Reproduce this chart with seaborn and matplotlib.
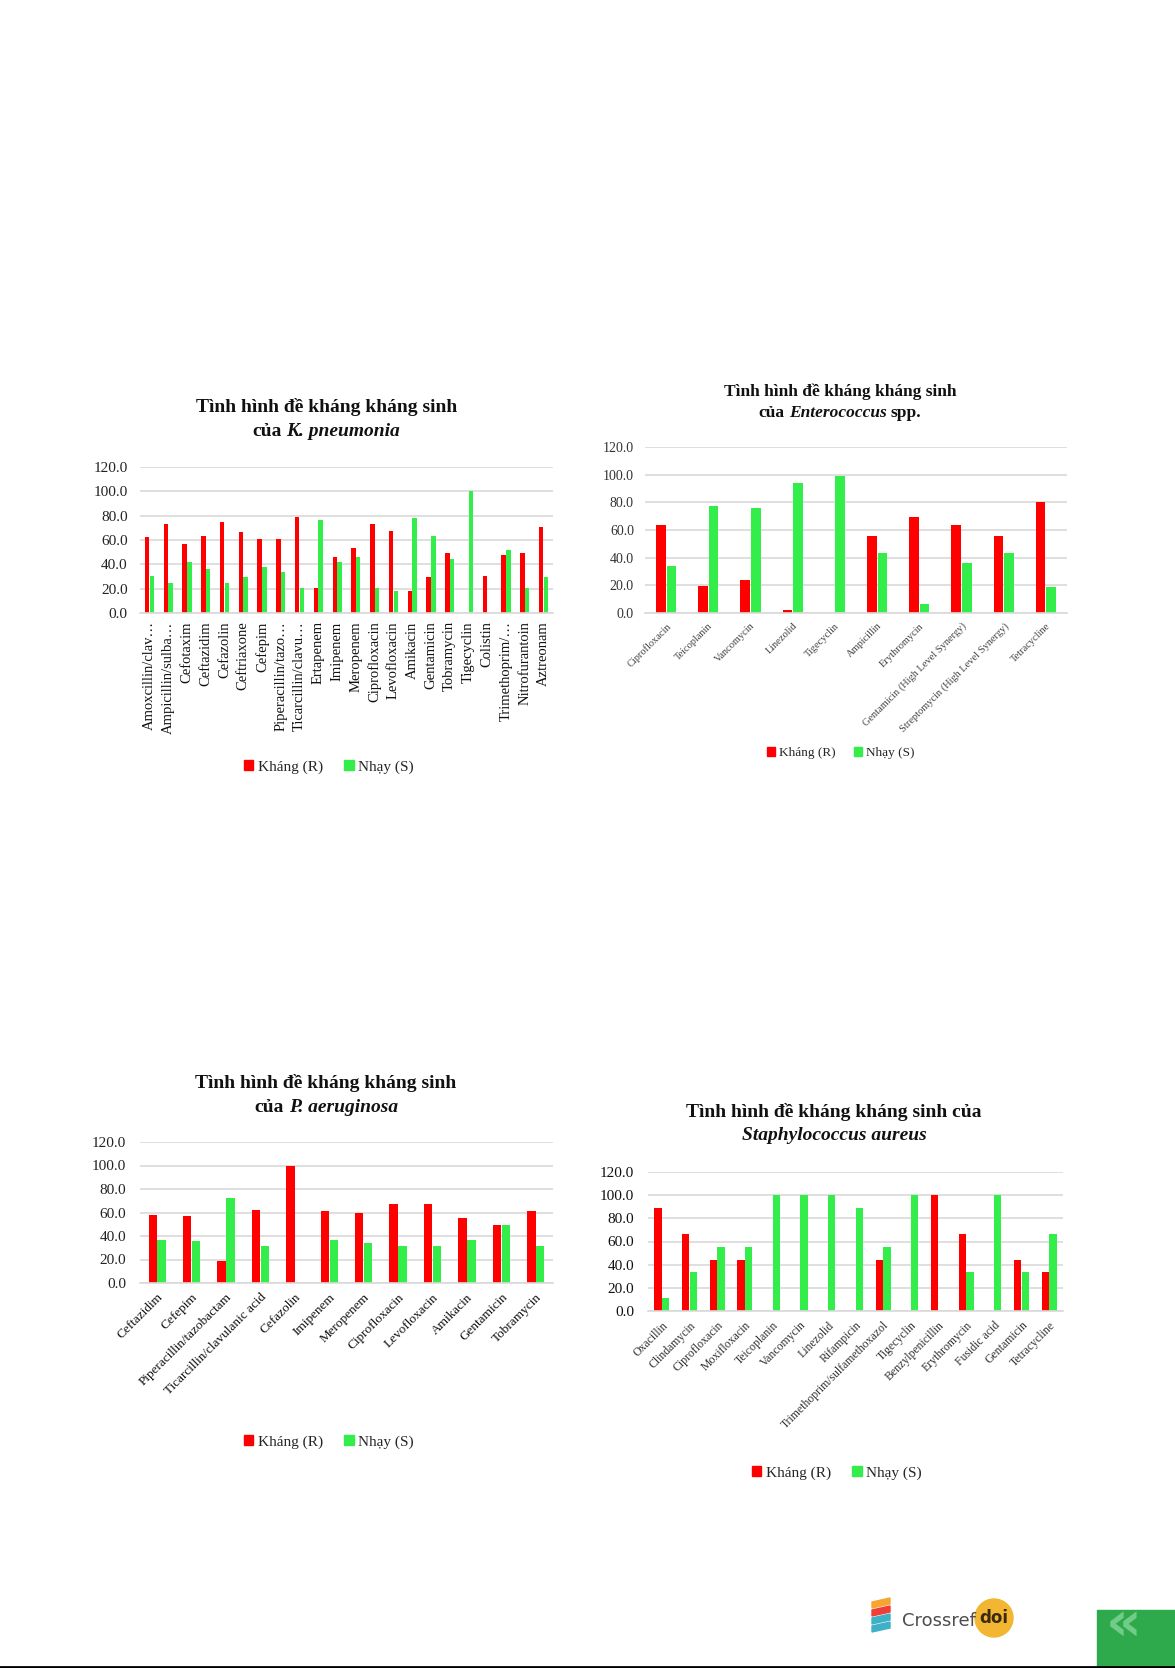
import numpy as np
import pandas as pd
import matplotlib
matplotlib.use("Agg")
import matplotlib.pyplot as plt
import matplotlib.patches as mpatches
import seaborn as sns

sns.set_theme(style="white")
plt.rcParams['font.family'] = ['Liberation Serif', 'DejaVu Serif']

W, H = 1175, 1668
DPI = 100

# ---------------- DATA ----------------
series_names = ["Kháng (R)", "Nhạy (S)"]
colors = ["#FF0000", "#33EE4A"]

kp_labels = ["Amoxcillin/clav…", "Ampicillin/sulba…", "Cefotaxim", "Ceftazidim", "Cefazolin",
             "Ceftriaxone", "Cefepim", "Piperacillin/tazo…", "Ticarcillin/clavu…", "Ertapenem",
             "Imipenem", "Meropenem", "Ciprofloxacin", "Levofloxacin", "Amikacin", "Gentamicin",
             "Tobramycin", "Tigecyclin", "Colistin", "Trimethoprim/…", "Nitrofurantoin", "Aztreonam"]
kp_R = [62.2, 73.1, 56.5, 63.5, 75.0, 66.3, 60.5, 60.5, 79.0, 20.5, 46.4, 53.2, 73.1, 67.6,
        17.7, 29.2, 49.1, 0.0, 30.5, 47.7, 49.1, 70.9]
kp_S = [30.5, 25.0, 42.3, 36.3, 24.5, 29.2, 37.6, 33.5, 20.2, 76.4, 42.3, 46.4, 20.2, 17.7,
        77.7, 63.5, 44.5, 100.0, 0.0, 51.8, 20.5, 29.2]

ent_labels = ["Ciprofloxacin", "Teicoplanin", "Vancomycin", "Linezolid", "Tigecyclin",
              "Ampicillin", "Erythromycin", "Gentamicin (High Level Synergy)",
              "Streptomycin (High Level Synergy)", "Tetracycline"]
ent_R = [63.6, 19.2, 23.5, 2.4, 0.0, 55.9, 69.6, 63.6, 55.9, 80.4]
ent_S = [34.3, 77.5, 76.1, 94.3, 99.1, 43.7, 6.5, 36.0, 43.7, 19.0]

pa_labels = ["Ceftazidim", "Cefepim", "Piperacillin/tazobactam", "Ticarcillin/clavulanic acid",
             "Cefazolin", "Imipenem", "Meropenem", "Ciprofloxacin", "Levofloxacin",
             "Amikacin", "Gentamicin", "Tobramycin"]
pa_R = [58.2, 56.7, 18.4, 62.4, 100.0, 61.0, 59.6, 67.0, 67.0, 55.0, 49.1, 61.0]
pa_S = [36.9, 35.7, 72.6, 31.5, 0.0, 36.9, 34.3, 31.5, 31.5, 36.9, 49.1, 31.5]

sa_labels = ["Oxacillin", "Clindamycin", "Ciprofloxacin", "Moxifloxacin", "Teicoplanin",
             "Vancomycin", "Linezolid", "Rifampicin", "Trimethoprim/sulfamethoxazol",
             "Tigecyclin", "Benzylpenicillin", "Erythromycin", "Fusidic acid", "Gentamicin",
             "Tetracycline"]
sa_R = [88.9, 66.7, 44.4, 44.4, 0.0, 0.0, 0.0, 0.0, 44.4, 0.0, 100.0, 66.7, 0.0, 44.4, 33.3]
sa_S = [11.1, 33.3, 55.6, 55.6, 100.0, 100.0, 100.0, 88.9, 55.6, 100.0, 0.0, 33.3, 100.0, 33.3, 66.7]

yticks = [0, 20, 40, 60, 80, 100, 120]

# ---------------- FIGURE ----------------
fig = plt.figure(figsize=(W / DPI, H / DPI), dpi=DPI)
fig.patch.set_facecolor("white")


def make_df(labels, r, s):
    return pd.DataFrame({
        "Kháng sinh": list(labels) * 2,
        "Tỷ lệ": list(r) + list(s),
        "Loại": [series_names[0]] * len(labels) + [series_names[1]] * len(labels),
    })


def add_ax(left, right, top, bottom):
    return fig.add_axes([left / W, 1 - bottom / H, (right - left) / W, (bottom - top) / H])


def draw_chart(box, labels, r, s, width, gap, rot, xfs, yfs, ypad, xcolor, ycolor):
    ax = add_ax(*box)
    df = make_df(labels, r, s)
    sns.barplot(data=df, x="Kháng sinh", y="Tỷ lệ", hue="Loại", order=labels,
                hue_order=series_names, palette=colors, width=width, gap=gap,
                saturation=1, legend=False, ax=ax, linewidth=0)
    ax.set_ylim(0, 120)
    ax.set_xlim(-0.5, len(labels) - 0.5)
    ax.set_yticks(yticks)
    ax.set_yticklabels([f"{v:.1f}" for v in yticks], fontsize=yfs, color=ycolor)
    ax.yaxis.grid(True, color="#D9D9D9", linewidth=1.2)
    ax.set_axisbelow(True)
    for sp in ["top", "right", "left"]:
        ax.spines[sp].set_visible(False)
    ax.spines["bottom"].set_color("#D9D9D9")
    ax.spines["bottom"].set_linewidth(1.2)
    ax.tick_params(axis="both", length=0)
    ax.tick_params(axis="y", pad=ypad)
    ax.tick_params(axis="x", pad=6)
    ax.set_xlabel("")
    ax.set_ylabel("")
    if rot == 90:
        ax.set_xticks(range(len(labels)))
        ax.set_xticklabels(labels, rotation=90, fontsize=xfs, color=xcolor, va="top", ha="center")
    else:
        ax.set_xticks(range(len(labels)))
        ax.set_xticklabels(labels, rotation=45, fontsize=xfs, color=xcolor, ha="right",
                           rotation_mode="anchor")
    return ax


renderer = fig.canvas.get_renderer()


def text_w(s, size, style):
    t = fig.text(0, 0, s, fontsize=size, fontweight="bold", fontstyle=style)
    w = t.get_window_extent(renderer).width
    t.remove()
    return w


def mixed_line(pieces, xc, y, size):
    # pieces: list of (text, style)
    sp = text_w("a a", size, "normal") - text_w("aa", size, "normal")
    widths = [text_w(p, size, st) for p, st in pieces]
    total = sum(widths) + sp * (len(pieces) - 1)
    x = xc - total / 2
    for (p, st), w in zip(pieces, widths):
        fig.text(x / W, 1 - y / H, p, fontsize=size, fontweight="bold", fontstyle=st,
                 ha="left", va="center", color="#111111")
        x += w + sp


def legend_at(xc, y, size):
    handles = [mpatches.Patch(color=c, label=n) for c, n in zip(colors, series_names)]
    fig.legend(handles=handles, loc="center", bbox_to_anchor=(xc / W, 1 - y / H), ncol=2,
               frameon=False, fontsize=size, handlelength=0.6, handleheight=0.6,
               handletextpad=0.3, columnspacing=1.4)


# Chart 1: K. pneumonia
draw_chart((140, 553, 467, 613), kp_labels, kp_R, kp_S, 0.5, 0.05, 90, 10.5, 11, 9, "#111111", "#222222")
mixed_line([("Tình hình đề kháng kháng sinh", "normal")], 327, 407, 14)
mixed_line([("của", "normal"), ("K. pneumonia", "italic")], 326, 432, 14)
legend_at(329, 767, 11)

# Chart 2: Enterococcus spp.
draw_chart((645, 1067, 447, 613), ent_labels, ent_R, ent_S, 0.5, 0.1, 45, 7.5, 10, 8, "#444444", "#333333")
mixed_line([("Tình hình đề kháng kháng sinh", "normal")], 840, 392, 12.5)
mixed_line([("của", "normal"), ("Enterococcus", "italic"), ("spp.", "normal")], 840, 413, 12.5)
legend_at(841, 753, 9.5)

# Chart 3: P. aeruginosa
draw_chart((140, 553, 1142, 1283), pa_labels, pa_R, pa_S, 0.52, 0.06, 45, 9.5, 11, 10, "#111111", "#222222")
mixed_line([("Tình hình đề kháng kháng sinh", "normal")], 326, 1083, 14)
mixed_line([("của", "normal"), ("P. aeruginosa", "italic")], 326, 1107, 14)
legend_at(329, 1442, 11)

# Chart 4: Staphylococcus aureus
draw_chart((648, 1063, 1172, 1311), sa_labels, sa_R, sa_S, 0.55, 0.06, 45, 8.5, 11, 10, "#333333", "#111111")
mixed_line([("Tình hình đề kháng kháng sinh của", "normal")], 834, 1112, 14)
mixed_line([("Staphylococcus aureus", "italic")], 834, 1135, 14)
legend_at(837, 1473, 11)

# ---------------- FOOTER DECORATION ----------------
deco = fig.add_axes([0, 0, 1, 1], zorder=-1)
deco.set_xlim(0, W)
deco.set_ylim(H, 0)
deco.axis("off")
# Crossref stripes
for i, c in enumerate(["#F6A531", "#EF3E36", "#3EB1C8", "#3EB1C8"]):
    deco.add_patch(mpatches.Polygon([[872, 1602 + i * 8], [890, 1598 + i * 8],
                                     [890, 1604 + i * 8], [872, 1608 + i * 8]], color=c))
deco.text(902, 1621, "Crossref", fontsize=13, color="#4D4D4D", family="DejaVu Sans",
          va="center", ha="left")
deco.add_patch(mpatches.Circle((994, 1618), 19, color="#F2B632"))
deco.text(994, 1618, "doi", fontsize=12, fontweight="bold", color="#3A2A10",
          family="DejaVu Sans", va="center", ha="center")
# Green box with chevrons
deco.add_patch(mpatches.Rectangle((1097, 1610), 78, 57, color="#2EAA4C"))
deco.text(1124, 1626, "«", fontsize=40, color="#72CC88", family="DejaVu Sans",
          va="center", ha="center", fontweight="bold")
# bottom rule
deco.plot([0, W], [1666.5, 1666.5], color="black", linewidth=2)

fig.savefig("out.png", dpi=DPI, facecolor="white")
